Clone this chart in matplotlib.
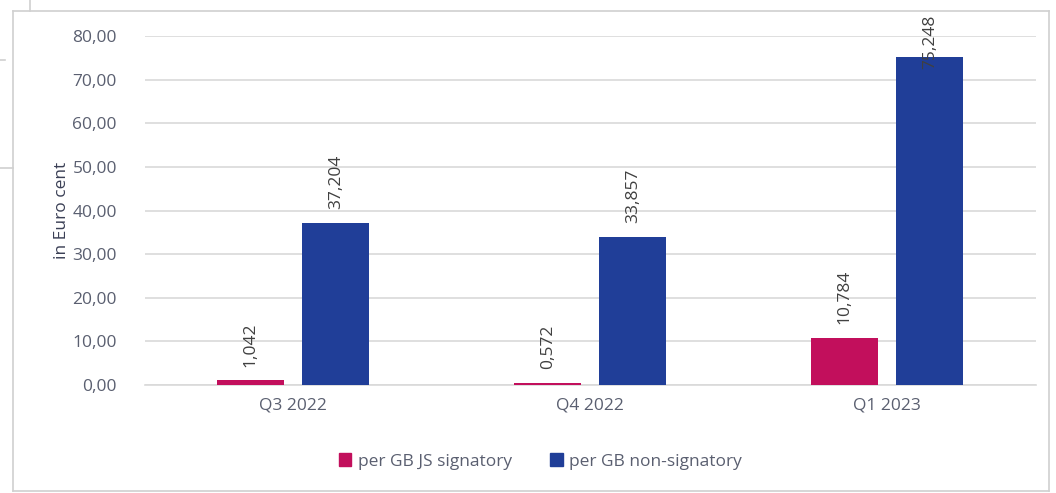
import matplotlib.pyplot as plt
from matplotlib.lines import Line2D
from matplotlib.patches import Rectangle
import numpy as np

# data
quarters = ['Q3 2022', 'Q4 2022', 'Q1 2023']
js_signatory = [1.042, 0.572, 10.784]
non_signatory = [37.204, 33.857, 75.248]
series_names = ['per GB JS signatory', 'per GB non-signatory']

pink = '#C20F5C'
blue = '#203E98'
txt = '#5A5F70'
grid = '#D9D9D9'

plt.rcParams['font.family'] = ['Open Sans', 'DejaVu Sans']

fig = plt.figure(figsize=(10.56, 4.93), dpi=100)
ax = fig.add_axes([0.137, 0.219, 0.844, 0.708])

x = np.arange(len(quarters))
w = 0.225
off = 0.143
b1 = ax.bar(x - off, js_signatory, w, color=pink, label=series_names[0], zorder=3)
b2 = ax.bar(x + off, non_signatory, w, color=blue, label=series_names[1], zorder=3)

ax.set_xlim(-0.5, 2.5)
ax.set_ylim(0, 80)
ax.set_yticks(np.arange(0, 81, 10))
ax.set_yticklabels([f'{v:.2f}'.replace('.', ',') for v in np.arange(0, 81, 10)])
ax.set_xticks(x)
ax.set_xticklabels(quarters)
ax.tick_params(axis='both', length=0, labelsize=12.5, colors=txt)
ax.tick_params(axis='y', pad=20)
ax.tick_params(axis='x', pad=9)
ax.grid(axis='y', color=grid, linewidth=1.2, zorder=0)
for s in ['top', 'right', 'left']:
    ax.spines[s].set_visible(False)
ax.spines['bottom'].set_color(grid)
ax.spines['bottom'].set_linewidth(1.2)
ax.set_ylabel('in Euro cent', fontsize=12.5, color='#3A3F55', labelpad=2)

# value labels, rotated like the original
for bars, vals in [(b1, js_signatory), (b2, non_signatory)]:
    for rect, v in zip(bars, vals):
        lab = f'{v:.3f}'.replace('.', ',')
        cx = rect.get_x() + rect.get_width() / 2
        if v > 70:
            ax.text(cx, 84.8, lab, rotation=90, ha='center', va='top',
                    fontsize=12.5, color='#404040', clip_on=False, zorder=4)
        else:
            ax.annotate(lab, (cx, v), xytext=(0, 10), textcoords='offset points',
                        rotation=90, ha='center', va='bottom',
                        fontsize=12.5, color='#404040')

handles = [Rectangle((0, 0), 1, 1, color=pink), Rectangle((0, 0), 1, 1, color=blue)]
fig.legend(handles, series_names, loc='center', bbox_to_anchor=(0.512, 0.064),
           ncol=2, frameon=False, fontsize=12.5, labelcolor=txt,
           handlelength=0.7, handleheight=0.7, handletextpad=0.4, columnspacing=2.2)

# chart frame and screenshot edges
W, H = 1056, 493
def fl(x0, y0, x1, y1):
    fig.add_artist(Line2D([x0 / W, x1 / W], [1 - y0 / H, 1 - y1 / H],
                          color='#D0D0D0', linewidth=1.2))
fl(13, 11, 1049, 11)
fl(13, 11, 13, 491)
fl(13, 491, 1049, 491)
fl(1049, 11, 1049, 491)
fl(30, 0, 30, 11)
fl(0, 60, 5, 60)
fl(0, 168, 13, 168)

fig.savefig('out.png', dpi=100)
